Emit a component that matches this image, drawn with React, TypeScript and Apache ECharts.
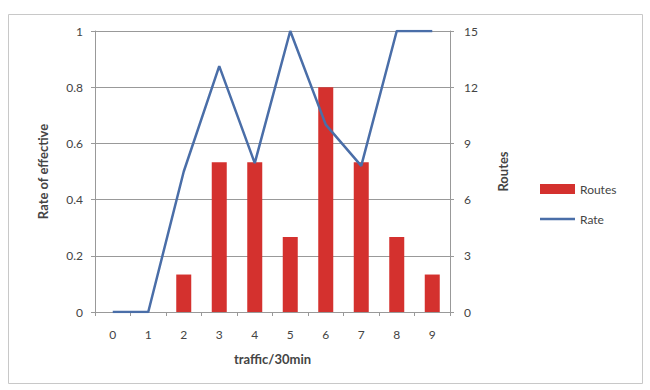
import React, { useEffect, useRef } from "react";
import * as echarts from "echarts";

const categories = ["0", "1", "2", "3", "4", "5", "6", "7", "8", "9"];
const routes = [0, 0, 2, 8, 8, 4, 12, 8, 4, 2];
const rate = [0, 0, 0.5, 0.875, 0.53, 1, 0.667, 0.52, 1, 1];

export default function App() {
  const ref = useRef<HTMLDivElement>(null);
  useEffect(() => {
    const chart = echarts.init(ref.current!, null, { renderer: "svg" });
    const font = "Lato";
    const txt = "#444";
    chart.setOption({
      animation: false,
      textStyle: { fontFamily: font },
      graphic: [
        {
          type: "rect",
          shape: { x: 8.5, y: 14.5, width: 634, height: 369 },
          style: { fill: "none", stroke: "#c8c8c8", lineWidth: 1 },
          silent: true,
        },
      ],
      grid: { left: 95, right: 200, top: 31, bottom: 78 },
      legend: {
        orient: "vertical",
        left: 535,
        top: 178,
        itemWidth: 35,
        itemHeight: 10,
        itemGap: 18,
        textStyle: { fontFamily: font, fontSize: 12, color: txt },
        data: [
          { name: "Routes", icon: "rect" },
          {
            name: "Rate",
            icon:
              "path://M0,0 L0.01,0 L0.01,0.01 Z M35,10 L34.99,10 L34.99,9.99 Z M0,3.8 L35,3.8 L35,6.2 L0,6.2 Z",
            itemStyle: { color: "#4a6ea8" },
          },
        ],
      },
      xAxis: {
        type: "category",
        data: categories,
        name: "traffic/30min",
        nameLocation: "middle",
        nameGap: 40,
        nameTextStyle: { fontFamily: font, fontSize: 13, fontWeight: "bold", color: txt },
        axisLine: { lineStyle: { color: "#999" } },
        axisTick: { show: true, length: 4, lineStyle: { color: "#999" } },
        axisLabel: { fontFamily: font, fontSize: 12, color: txt, margin: 16 },
      },
      yAxis: [
        {
          type: "value",
          min: 0,
          max: 1,
          interval: 0.2,
          name: "Rate of effective",
          nameLocation: "middle",
          nameGap: 46,
          nameTextStyle: { fontFamily: font, fontSize: 13, fontWeight: "bold", color: txt },
          axisLine: { show: true, lineStyle: { color: "#999" } },
          axisTick: { show: true, length: 4, lineStyle: { color: "#999" } },
          axisLabel: { fontFamily: font, fontSize: 12, color: txt, margin: 12 },
          splitLine: { lineStyle: { color: "#999", width: 1 } },
        },
        {
          type: "value",
          min: 0,
          max: 15,
          interval: 3,
          name: "Routes",
          nameLocation: "middle",
          nameGap: 46,
          nameTextStyle: { fontFamily: font, fontSize: 13, fontWeight: "bold", color: txt },
          axisLine: { show: true, lineStyle: { color: "#999" } },
          axisTick: { show: true, length: 4, lineStyle: { color: "#999" } },
          axisLabel: { fontFamily: font, fontSize: 12, color: txt, margin: 14 },
          splitLine: { show: false },
        },
      ],
      series: [
        {
          name: "Routes",
          type: "bar",
          yAxisIndex: 1,
          data: routes,
          barWidth: 15,
          itemStyle: { color: "#d4312e" },
        },
        {
          name: "Rate",
          type: "line",
          yAxisIndex: 0,
          data: rate,
          symbol: "none",
          lineStyle: { color: "#4a6ea8", width: 2.5 },
          itemStyle: { color: "#4a6ea8" },
        },
      ],
    });
    return () => chart.dispose();
  }, []);
  return (
    <div
      ref={ref}
      style={{ position: "absolute", left: 0, top: 0, width: 650, height: 390 }}
    />
  );
}
